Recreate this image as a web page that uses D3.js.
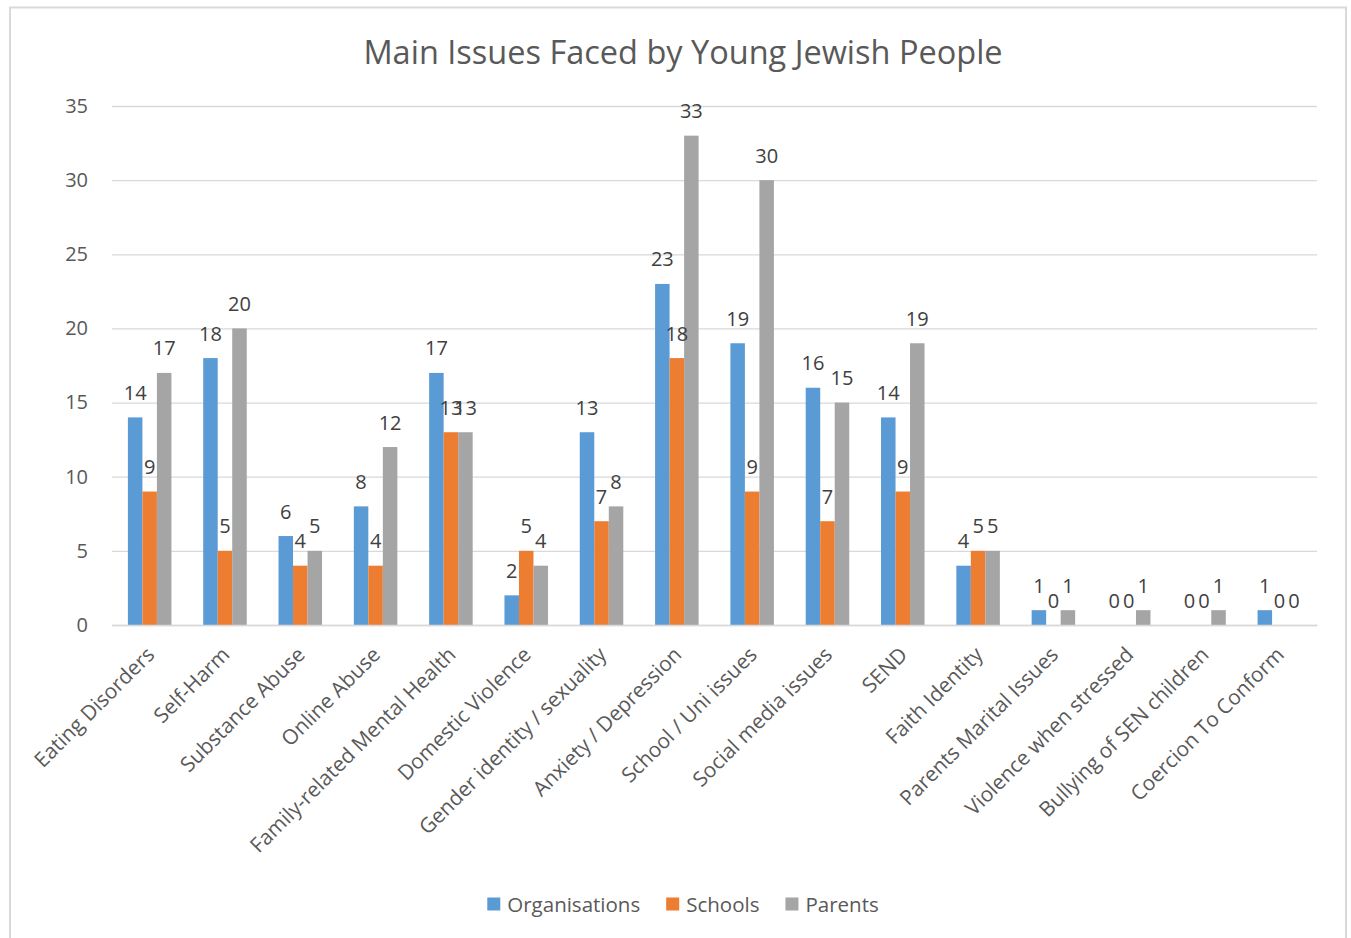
<!DOCTYPE html>
<html>
<head>
<meta charset="utf-8">
<script src="https://cdn.jsdelivr.net/npm/d3@7"></script>
<style>
  html, body { margin: 0; padding: 0; background: #fff; }
  svg { display: block; font-family: "Open Sans", "Liberation Sans", sans-serif; }
</style>
</head>
<body>
<svg id="chart" width="1351" height="938"></svg>
<script>
// Survey categories and counts per respondent group
const categories = [
  "Eating Disorders", "Self-Harm", "Substance Abuse", "Online Abuse",
  "Family-related Mental Health", "Domestic Violence", "Gender identity / sexuality",
  "Anxiety / Depression", "School / Uni issues", "Social media issues", "SEND",
  "Faith Identity", "Parents Marital Issues", "Violence when stressed",
  "Bullying of SEN children", "Coercion To Conform"
];
const organisations = [14, 18, 6, 8, 17, 2, 13, 23, 19, 16, 14, 4, 1, 0, 0, 1];
const schools       = [9, 5, 4, 4, 13, 5, 7, 18, 9, 7, 9, 5, 0, 0, 0, 0];
const parents       = [17, 20, 5, 12, 13, 4, 8, 33, 30, 15, 19, 5, 1, 1, 1, 0];
const seriesNames = ["Organisations", "Schools", "Parents"];
const seriesColors = ["#5B9BD5", "#ED7D31", "#A5A5A5"];
const yTicks = [0, 5, 10, 15, 20, 25, 30, 35];
const title = "Main Issues Faced by Young Jewish People";

const seriesValues = [organisations, schools, parents];
const rows = categories.map((c, i) => ({
  category: c,
  values: seriesNames.map((s, j) => ({ series: s, idx: j, value: seriesValues[j][i] }))
}));

const svg = d3.select("#chart");
const plot = { left: 112, right: 1317, top: 106, bottom: 625 };
const FONT = "\"Open Sans\", sans-serif";

// Chart frame
svg.append("rect")
  .attr("x", 10).attr("y", 7.5)
  .attr("width", 1336).attr("height", 940)
  .attr("fill", "#fff").attr("stroke", "#d9d9d9").attr("stroke-width", 2);

// Title
svg.append("text")
  .attr("x", 683).attr("y", 51)
  .attr("text-anchor", "middle").attr("dominant-baseline", "central")
  .attr("font-size", 32.5).attr("fill", "#595959")
  .text(title);

const x0 = d3.scaleBand().domain(categories)
  .range([plot.left, plot.right]).paddingInner(0).paddingOuter(0);
const barW = x0.bandwidth() / 5.19;
const x1 = d3.scaleBand().domain(seriesNames)
  .range([x0.bandwidth() / 2 - 1.5 * barW, x0.bandwidth() / 2 + 1.5 * barW]).padding(0);
const y = d3.scaleLinear().domain([0, 35]).range([plot.bottom, plot.top]);

// Gridlines and y tick labels
const yAxis = d3.axisLeft(y).tickValues(yTicks).tickSize(-(plot.right - plot.left)).tickPadding(24);
const gy = svg.append("g").attr("transform", `translate(${plot.left},0)`).call(yAxis);
gy.select(".domain").remove();
gy.selectAll(".tick line").attr("stroke", "#d9d9d9").attr("stroke-width", 1.3);
gy.selectAll(".tick text").attr("fill", "#595959").attr("font-size", 20)
  .attr("font-family", FONT);

// Bars
const groups = svg.append("g").selectAll("g").data(rows).join("g")
  .attr("transform", d => `translate(${x0(d.category)},0)`);

groups.selectAll("rect").data(d => d.values).join("rect")
  .attr("x", d => x1(d.series))
  .attr("y", d => y(d.value))
  .attr("width", x1.bandwidth())
  .attr("height", d => y(0) - y(d.value))
  .attr("fill", d => seriesColors[d.idx]);

// Value labels above each bar
groups.selectAll("text").data(d => d.values).join("text")
  .attr("x", d => x1(d.series) + x1.bandwidth() / 2)
  .attr("y", d => y(d.value) - 25)
  .attr("text-anchor", "middle").attr("dominant-baseline", "central")
  .attr("font-size", 20).attr("fill", "#404040")
  .text(d => d.value);

// Category axis
const xAxis = d3.axisBottom(x0).tickSize(0).tickPadding(0);
const gx = svg.append("g").attr("transform", `translate(0,${plot.bottom})`).call(xAxis);
gx.select(".domain").attr("stroke", "#d9d9d9").attr("stroke-width", 1.3);
gx.selectAll(".tick text")
  .attr("font-size", 20.8).attr("fill", "#595959")
  .attr("font-family", FONT)
  .attr("text-anchor", "end")
  .attr("dy", null).attr("y", 0).attr("x", 0)
  .attr("transform", "translate(6,31) rotate(-45)");

// Legend
const legend = svg.append("g");
const items = legend.selectAll("g").data(seriesNames).join("g");
items.append("rect").attr("width", 13).attr("height", 13).attr("y", -6.5)
  .attr("fill", (d, i) => seriesColors[i]);
items.append("text").attr("x", 20).attr("dominant-baseline", "central")
  .attr("font-size", 20.5).attr("fill", "#595959").text(d => d);
let cursor = 0;
const gap = 26;
items.each(function () {
  const w = 20 + this.querySelector("text").getComputedTextLength();
  d3.select(this).attr("data-off", cursor);
  cursor += w + gap;
});
const total = cursor - gap;
items.attr("transform", function () {
  return `translate(${683 - total / 2 + (+this.getAttribute("data-off"))},904)`;
});
</script>
</body>
</html>
